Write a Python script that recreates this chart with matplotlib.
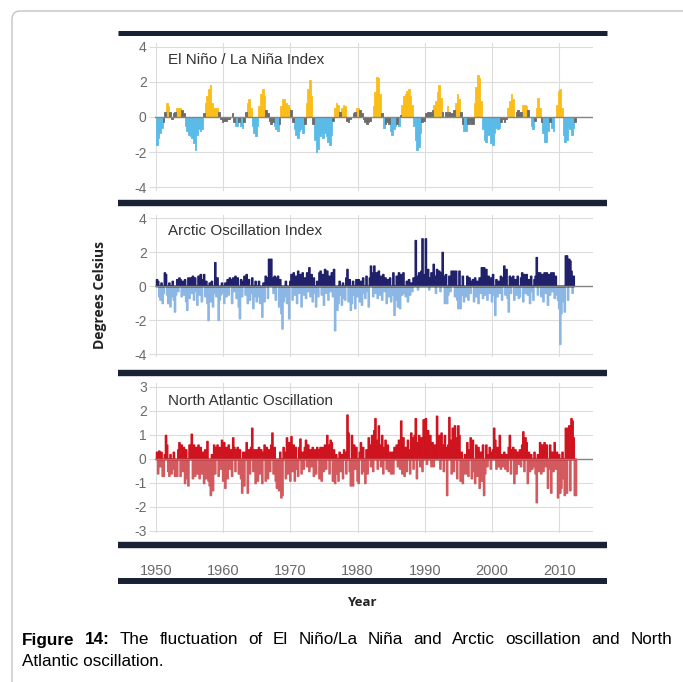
import numpy as np
import matplotlib
matplotlib.use('Agg')
import matplotlib.pyplot as plt
from matplotlib.patches import FancyBboxPatch
from matplotlib.lines import Line2D

plt.rcParams['axes.unicode_minus'] = False

# El Nino / La Nina index, 4 values per year from 1950
enso = [
    -1.6, -1.2, -0.9, -0.6,   -0.3, 0.3, 0.8, 0.6,   0.3, -0.1, 0.2, 0.3,   0.5, 0.5, 0.5, 0.4,
    0.2, -0.5, -0.8, -1.0,    -1.1, -1.2, -1.5, -1.9, -1.0, -0.7, -0.8, -0.7, 0.2, 0.8, 1.2, 1.6,
    1.8, 0.8, 0.5, 0.5,       0.5, 0.3, -0.1, -0.3,  -0.2, -0.2, -0.1, -0.1, 0.0, 0.2, -0.3, -0.5,
    -0.5, -0.3, -0.5, -0.6,   -0.3, 0.3, 0.8, 1.0,   0.5, -0.5, -0.9, -1.1, -0.5, 0.6, 1.3, 1.6,
    1.2, 0.4, 0.2, -0.2,      -0.4, -0.3, -0.5, -0.7, -0.8, -0.4, 0.6, 1.0,  1.0, 0.8, 0.7, 0.5,
    0.4, -0.3, -0.7, -1.0,    -1.2, -0.8, -0.7, -0.9, -0.4, 0.8, 1.6, 2.1,  1.2, -0.4, -1.3, -2.0,
    -1.8, -1.1, -0.9, -1.2,   -0.9, -1.1, -1.4, -1.6, -1.0, -0.2, 0.5, 0.8, 0.7, 0.3, 0.5, 0.7,
    0.6, -0.2, -0.3, -0.1,    0.0, 0.2, 0.3, 0.5,    0.5, 0.4, 0.2, -0.1,   -0.3, -0.4, -0.3, -0.2,
    0.0, 0.6, 1.4, 2.3,       2.2, 1.3, 0.2, -0.6,   -0.4, -0.3, -0.4, -0.8, -1.0, -0.7, -0.5, -0.4,
    -0.5, 0.1, 0.7, 1.2,      1.3, 1.5, 1.6, 1.2,    0.7, -0.5, -1.3, -1.9,  -1.7, -0.9, -0.3, -0.2,
    0.2, 0.3, 0.3, 0.3,       0.4, 0.7, 0.9, 1.4,    1.8, 1.1, 0.3, 0.0,    0.3, 0.6, 0.3, 0.2,
    0.2, 0.4, 0.8, 1.3,       1.0, 0.3, -0.4, -0.8,  -0.8, -0.4, -0.2, -0.4, -0.4, 0.8, 1.7, 2.4,
    2.2, 0.9, -0.7, -1.3,     -1.4, -1.0, -1.0, -1.5, -1.6, -0.9, -0.6, -0.7, -0.6, -0.3, -0.1, -0.3,
    -0.1, 0.5, 0.9, 1.3,      1.0, 0.0, 0.3, 0.4,    0.3, 0.3, 0.7, 0.7,    0.6, 0.4, 0.0, -0.5,
    -0.7, -0.2, 0.5, 1.1,     0.5, -0.3, -0.9, -1.4, -1.4, -0.8, -0.3, -0.6, -0.8, 0.0, 0.7, 1.5,
    1.6, 0.5, -1.0, -1.4,     -1.3, -0.6, -0.7, -1.0, -0.6, -0.3,
]

# Arctic Oscillation index, 6 values per year from 1950
ao = [
    0.4, 0.3, -0.6, -0.8, 0.2, -1.0,    -0.4, 0.8, 0.7, -0.5, -1.0, 0.2,
    -1.2, -0.6, 0.3, -0.8, -1.5, -0.5,  0.4, -0.3, 0.5, 0.4, -0.6, 0.3,
    -0.5, 0.4, -0.9, -1.4, 0.5, -0.7,   0.5, -0.4, 0.6, -0.8, 0.5, -0.3,
    -1.1, 0.6, -0.5, 0.7, -0.9, 0.4,    0.7, -0.6, 0.3, -1.0, -2.0, 0.2,
    -0.9, 0.3, -1.2, -0.4, 1.4, -0.6,   0.5, -2.0, -0.8, -0.5, 0.2, -0.4,
    -1.0, 0.2, -0.6, 0.4, -0.5, 0.5,    0.4, -1.0, 0.5, -0.3, 0.6, -0.7,
    0.5, -1.2, -1.9, 0.4, -0.6, 0.3,    0.6, -0.5, 0.7, -1.0, 0.4, -0.8,
    -0.4, 0.5, -1.3, -0.6, 0.3, -0.9,   -0.6, 0.3, -1.0, -0.5, -1.8, 0.2,
    -0.9, 0.6, 0.5, -0.7, 1.6, 0.6,     1.6, 0.5, -0.4, 0.6, -0.8, 0.5,
    0.6, -1.2, 0.4, -1.6, -2.5, -0.9,   -0.6, 0.3, -1.0, -0.5, -1.9, 0.3,
    0.7, -0.8, 0.8, -0.5, 0.6, -1.0,    0.9, -0.4, 0.7, -1.2, 0.8, -0.5,
    0.5, -0.7, 0.8, -0.3, 1.1, -0.6,    0.7, -0.9, 0.5, -0.4, -1.2, 0.3,
    -0.6, 0.8, 0.9, -0.5, 0.7, -1.1,    1.0, -0.4, 0.9, -0.8, 0.6, -0.3,
    0.8, -0.6, 1.0, -2.6, -0.9, -1.4,   -1.0, 0.3, -0.5, -1.1, 0.2, -0.7,
    -0.8, 0.5, 1.0, -0.9, 0.4, -1.4,    -1.0, 0.3, -0.5, -1.3, 0.4, -0.6,
    0.4, -0.9, 0.3, -1.1, 0.5, -0.4,    -0.7, 0.6, -0.3, -1.2, 0.5, 1.2,
    0.8, -0.6, 1.2, -0.4, 0.8, -0.7,    0.9, -0.5, 0.6, -0.8, 0.7, -0.3,
    0.5, -1.0, 0.4, -0.6, 0.5, -0.9,    -0.5, 0.8, -1.7, -0.8, 0.6, -1.2,
    0.8, -1.3, 0.7, -0.5, 0.8, -0.4,    -0.6, 0.3, -0.9, 0.4, -0.5, 0.2,
    -0.3, 0.5, 0.4, 2.7, 0.6, -0.2,     0.8, 0.5, 0.9, 2.8, 0.7, 0.5,
    2.8, 0.6, 1.0, -0.2, 0.5, 0.8,      0.7, 1.3, 0.6, -0.4, 1.0, 0.5,
    0.9, -0.3, 0.8, 2.0, 0.6, -1.0,     0.7, -1.0, -0.5, 0.6, -0.3, 0.9,
    0.8, 0.9, -0.6, 0.9, -0.8, -1.3,    0.9, -1.3, -0.5, 0.6, -0.9, -0.3,
    -0.6, 0.6, -0.8, 0.5, -0.4, 0.3,    0.4, -0.9, 0.5, -0.6, 0.3, -1.0,
    0.5, -0.4, 1.1, -0.7, 1.1, -0.5,    1.0, -0.8, 0.6, -0.4, 0.5, -0.9,
    0.7, -0.5, -1.7, 0.4, -0.6, 0.3,    -0.4, 0.6, -0.8, 0.5, 1.2, -0.5,
    1.0, -0.7, -1.5, 0.6, -0.4, 0.5,    0.6, -0.8, 0.4, -0.5, 0.6, -0.7,
    -0.6, 0.5, 0.8, -0.9, 0.7, -0.4,    0.7, -0.5, 0.4, -1.0, 0.6, -0.3,
    -0.8, 0.4, 0.6, 1.7, -0.5, 0.8,     0.8, -0.6, 0.7, -0.9, 0.8, -0.4,
    0.8, -1.1, 0.7, -0.5, 0.8, -0.3,    0.8, -0.7, 0.6, -0.5, -0.8, -1.3,
    -3.4, -1.6, -0.9, -0.6, -1.5, 1.8,  1.8, -0.8, 1.6, 1.5, 0.9, -0.4,
    0.6,
]

# North Atlantic Oscillation, 6 values per year from 1950
nao = [
    0.3, -0.6, 0.35, -0.3, 0.3, -0.7,   -0.7, 0.2, 1.0, 0.6, -0.5, -0.7,
    0.2, -0.6, -0.4, 0.3, -0.7, -0.5,   -0.7, 0.4, 0.7, -0.7, 0.6, -0.5,
    0.5, -1.0, 0.4, -0.8, -1.1, 0.6,    0.4, 1.05, -0.8, 0.6, -0.7, 0.5,
    -0.6, 0.6, -0.8, 0.5, -0.6, 0.3,    -1.0, 0.4, -0.8, 0.75, -0.9, -1.1,
    -1.5, 0.2, -1.3, 0.6, -0.6, 0.5,    0.6, -0.7, 0.5, -0.4, 0.8, -0.9,
    0.7, -1.2, 0.5, -0.8, 0.6, -0.4,    0.4, -0.7, 0.9, 0.5, -0.5, 0.4,
    0.5, -0.6, 0.4, -0.8, -1.4, 0.3,    -1.1, 0.3, 0.7, -1.4, 0.4, -0.6,
    0.5, 1.3, -0.5, 0.4, -1.0, 0.4,     -0.9, 0.5, -0.6, 0.4, -1.0, 0.3,
    0.6, -0.9, 0.5, -0.8, 0.4, -0.5,    0.6, 1.1, -0.6, 0.5, -0.9, -1.2,
    -0.7, -1.3, 0.3, -1.6, -1.5, 0.5,   0.3, -0.8, 0.9, -0.6, 0.7, -0.9,
    0.95, -0.5, 0.6, -0.9, 0.5, -0.4,   -0.7, 0.5, 0.85, -0.6, 0.3, -0.4,
    0.5, 0.8, -0.3, 0.6, -0.5, 0.4,     -0.3, 0.5, -0.7, 0.4, -0.6, 0.5,
    0.4, -0.8, 0.5, -0.9, 0.5, -0.5,    0.6, -0.4, 1.0, 0.6, -0.6, 0.8,
    0.7, -0.9, 0.4, -1.0, 0.2, -0.6,    -0.9, 0.3, -0.5, 0.2, -0.8, 0.4,
    0.3, -0.6, 1.85, 1.1, -0.5, -1.1,   1.0, -1.1, 0.6, -0.4, 0.5, -0.9,
    -1.0, 0.3, 0.7, -0.6, 0.5, -0.5,    -1.0, 0.4, -0.6, 0.9, 0.6, -0.3,
    1.0, -0.5, 1.2, 1.7, 0.8, -0.4,     1.4, 0.6, -0.3, 1.0, -0.6, 0.5,
    0.8, -0.4, 0.6, -0.5, 0.3, -0.6,    0.3, -0.6, 0.5, 0.2, 0.6, -0.3,
    0.8, -0.4, 1.6, -0.6, 0.9, -0.7,    0.5, -0.5, 0.8, 0.4, -0.6, 1.1,
    0.9, -0.4, 1.0, 1.7, -0.8, 0.7,     1.0, -0.3, 0.9, -0.5, 1.65, 0.8,
    1.7, -0.2, 1.2, 0.6, 1.0, -0.3,     0.7, -0.3, 0.6, 0.5, 1.8, 0.9,
    1.0, -0.4, 1.1, 0.6, -0.5, 1.0,     0.5, -1.5, 0.6, 1.75, 0.8, -0.6,
    1.3, -0.5, 1.4, 0.9, -0.8, 1.4,     1.0, -0.9, 0.3, -1.0, -0.6, 0.2,
    -0.6, 0.7, -0.7, 0.4, 0.9, -0.8,    0.8, -0.5, -1.0, 0.6, -0.7, 0.5,
    -1.2, 0.3, -0.9, 0.6, -1.5, -0.6,   0.6, -0.3, 0.2, 0.5, -0.4, 0.3,
    0.4, 1.3, 0.8, -0.4, 0.5, -0.3,     1.0, -0.4, 0.2, -0.3, 0.3, -0.4,
    0.2, -0.5, 0.5, 1.0, -0.6, 0.4,     0.5, -1.0, 0.4, -0.6, 0.3, -0.2,
    0.4, -0.3, 0.6, 1.15, -0.5, 0.9,    0.7, -1.0, 0.3, -0.5, 0.2, -0.4,
    -0.3, 0.3, -0.6, -1.8, 0.2, -0.5,   0.7, -0.6, 0.6, -0.5, 0.7, -0.3,
    0.6, -1.2, -0.4, 0.6, -1.4, 0.3,    -0.5, 0.7, -0.4, 0.3, -1.6, 0.2,
    -1.4, -1.2, 0.3, -0.8, -1.5, 1.3,   -1.4, 1.3, 1.4, -1.3, 1.7, 1.6,
    0.9, -1.5, -1.5,
]

start_year = 1950
year_ticks = [1950, 1960, 1970, 1980, 1990, 2000, 2010]
enso_ticks = [-4, -2, 0, 2, 4]
ao_ticks = [-4, -2, 0, 2, 4]
nao_ticks = [-3, -2, -1, 0, 1, 2, 3]
titles = ['El Niño / La Niña Index', 'Arctic Oscillation Index', 'North Atlantic Oscillation']
caption1 = [('Figure', 'bold'), ('14:', 'bold'), ('The', 'normal'), ('fluctuation', 'normal'),
            ('of', 'normal'), ('El', 'normal'), ('Niño/La', 'normal'), ('Niña', 'normal'),
            ('and', 'normal'), ('Arctic', 'normal'), ('oscillation', 'normal'),
            ('and', 'normal'), ('North', 'normal')]
caption2 = 'Atlantic oscillation.'

W, H = 683, 682
fig = plt.figure(figsize=(W / 100, H / 100), dpi=100)
fig.patch.set_facecolor('white')

sans = ['Liberation Sans', 'DejaVu Sans']

# light rounded frame round the figure
frame = FancyBboxPatch((12 / W, -0.05), 1.1, 1 - 11 / H + 0.05,
                       boxstyle='round,pad=0,rounding_size=0.012',
                       transform=fig.transFigure, fill=False,
                       edgecolor='#c4c4c4', linewidth=1.0)
fig.add_artist(frame)

# thick dark rules between panels
for ypix, lw in [(33, 3.6), (203.5, 4.6), (373, 4.6), (545, 4.6), (581, 4.3)]:
    fig.add_artist(Line2D([118 / W, 607 / W], [1 - ypix / H] * 2,
                          transform=fig.transFigure, color='#1b2134',
                          linewidth=lw, solid_capstyle='butt'))

left = 155 / W
width = (592.5 - 155) / W
xlim = (1949.85, 2014.95)

def fpos(top, bottom):
    return [left, 1 - bottom / H, width, (bottom - top) / H]

def stepfill(ax, vals, per_year, color, lw):
    v = np.asarray(vals, dtype=float)
    t = start_year + np.arange(len(v) + 1) / per_year
    ax.fill_between(t, np.append(v, v[-1]), 0, step='post', color=color,
                    linewidth=lw, edgecolor=color, zorder=2)

def setup(ax, ylim, yticks, title):
    ax.axhline(0, color='#858585', linewidth=1.0, zorder=3)
    ax.set_xlim(*xlim)
    ax.set_ylim(*ylim)
    ax.set_xticks(year_ticks)
    ax.set_yticks(yticks)
    ax.grid(True, color='#dcdcdc', linewidth=0.8, zorder=0)
    ax.set_axisbelow(True)
    for s in ax.spines.values():
        s.set_visible(False)
    ax.tick_params(axis='y', length=4, color='#dcdcdc', pad=2,
                   labelsize=10, labelcolor='#6a6a6a')
    ax.tick_params(axis='x', length=0, labelbottom=False)
    for lab in ax.get_yticklabels():
        lab.set_family(sans)
    ax.text(0.03, 0.885, title, transform=ax.transAxes, va='center', ha='left',
            fontsize=11, color='#333333', family=sans, zorder=5)

ax1 = fig.add_axes(fpos(43.1, 190.9))
e = np.array(enso)
stepfill(ax1, np.where(e >= 0.5, e, 0), 4, '#fbbd19', 0.6)
stepfill(ax1, np.where(e <= -0.5, e, 0), 4, '#5bbbe8', 0.6)
stepfill(ax1, np.where(np.abs(e) < 0.5, e, 0), 4, '#6b6b6b', 0.6)
setup(ax1, (-4.2, 4.2), enso_ticks, titles[0])

ax2 = fig.add_axes(fpos(214.6, 357.4))
a = np.array(ao)
stepfill(ax2, np.clip(a, None, 0), 6, '#8cb6e3', 1.1)
stepfill(ax2, np.clip(a, 0, None), 6, '#20206b', 1.1)
setup(ax2, (-4.2, 4.2), ao_ticks, titles[1])

ax3 = fig.add_axes(fpos(383.4, 533.4))
n = np.array(nao)
stepfill(ax3, np.clip(n, None, 0), 6, '#d25a5e', 1.1)
stepfill(ax3, np.clip(n, 0, None), 6, '#cf1420', 1.1)
setup(ax3, (-3.1, 3.15), nao_ticks, titles[2])
ax3.tick_params(axis='x', labelbottom=True, pad=22, labelsize=10.5,
                labelcolor='#6a6a6a')
for lab in ax3.get_xticklabels():
    lab.set_family(sans)

fig.text(100 / W, 1 - 295 / H, 'Degrees Celsius', rotation=90, ha='center',
         va='center', fontsize=10, fontweight='bold', color='#222222',
         family=['Open Sans', 'DejaVu Sans'])
fig.text(362 / W, 1 - 603 / H, 'Year', ha='center', va='center', fontsize=9.5,
         fontweight='bold', color='#222222', family=['Open Sans', 'DejaVu Sans'])

# caption, first line justified between x=22 and x=672
r = fig.canvas.get_renderer()
cap_y = 1 - 640 / H
words = [fig.text(0, cap_y, w, fontsize=12.3, fontweight=wt, family=sans,
                  va='center', ha='left') for w, wt in caption1]
widths = [t.get_window_extent(r).width for t in words]
gap = (672 - 22 - sum(widths)) / (len(words) - 1)
x = 22
for t, wd in zip(words, widths):
    t.set_x(x / W)
    x += wd + gap
fig.text(22 / W, 1 - 662 / H, caption2, fontsize=12.3, family=sans,
         va='center', ha='left')

fig.savefig('out.png', dpi=100)
